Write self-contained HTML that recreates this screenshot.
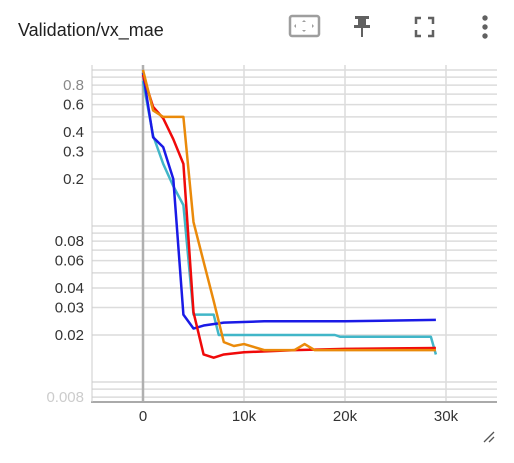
<!DOCTYPE html>
<html><head><meta charset="utf-8"><style>
body{margin:0;background:#fff;width:514px;height:463px;overflow:hidden;font-family:"Liberation Sans",sans-serif}
svg{position:absolute;left:0;top:0}
</style></head><body>
<svg width="514" height="463">
<text x="18" y="36" font-size="18" fill="#212121">Validation/vx_mae</text>
<g><rect x="290" y="16" width="29" height="20" rx="2" fill="none" stroke="#9e9e9e" stroke-width="2.5"/><path d="M304 20l2 2h-4zM304 32l2-2h-4zM294 26l2-2v4zM314 26l-2-2v4z" fill="#9e9e9e"/></g>
<g fill="#616161"><rect x="355" y="16" width="14" height="3"/><rect x="358" y="16" width="8" height="10"/><rect x="354" y="25" width="16" height="3"/><rect x="361" y="27" width="2" height="10"/></g>
<g fill="none" stroke="#616161" stroke-width="2.5"><path d="M416 24v-6h5M428 18h5v6M433 30v6h-5M421 36h-5v-6"/></g>
<g fill="#616161"><circle cx="485" cy="18" r="2.7"/><circle cx="485" cy="27" r="2.7"/><circle cx="485" cy="36" r="2.7"/></g>
<g id="grid"></g><g id="axes"></g><g id="series"></g>
<path d="M484 442l10-10M489 442l5-5" stroke="#555" stroke-width="1.3"/>
</svg>
<script>
const xTicks=[0,10000,20000,30000];
const xTickLabels=["0","10k","20k","30k"];
const yGrid=[0.008,0.009,0.01,0.02,0.03,0.04,0.05,0.06,0.07,0.08,0.09,0.1,0.2,0.3,0.4,0.5,0.6,0.7,0.8,0.9,1.0];
const yTicks=[0.008,0.02,0.03,0.04,0.06,0.08,0.2,0.3,0.4,0.6,0.8];
const yTickLabels=["0.008","0.02","0.03","0.04","0.06","0.08","0.2","0.3","0.4","0.6","0.8"];
const blueSteps=[0,1000,2000,3000,4000,5000,6000,8000,12000,20000,29000];
const blueVals=[0.96,0.37,0.32,0.2,0.027,0.022,0.023,0.024,0.0245,0.0245,0.025];
const cyanSteps=[0,1000,2000,3000,4000,5000,7000,7500,19000,19500,28500,29000];
const cyanVals=[0.85,0.38,0.25,0.18,0.136,0.027,0.027,0.02,0.02,0.0195,0.0195,0.015];
const redSteps=[0,1000,2000,3000,4000,5000,6000,7000,8000,10000,15000,20000,29000];
const redVals=[0.93,0.58,0.49,0.36,0.25,0.028,0.015,0.0143,0.015,0.0155,0.016,0.0163,0.0165];
const orangeSteps=[0,1000,2000,4000,5000,6000,7000,8000,9000,10000,12000,15000,16000,17000,29000];
const orangeVals=[1.0,0.55,0.5,0.5,0.106,0.059,0.033,0.018,0.017,0.0175,0.016,0.016,0.0175,0.016,0.016];
const X=s=>143+s*0.0101;
const Y=v=>179-156*Math.log10(v/0.2);
const NS="http://www.w3.org/2000/svg";
function mk(t,a,p){const e=document.createElementNS(NS,t);for(const k in a)e.setAttribute(k,a[k]);p.appendChild(e);return e;}
const grid=document.getElementById('grid'),axes=document.getElementById('axes'),ser=document.getElementById('series');
yGrid.forEach(v=>{const l=mk('line',{x1:92,x2:497,y1:Y(v),y2:Y(v),stroke:'#dcdcdc','stroke-width':1.5},grid);

});
xTicks.forEach((s,i)=>{const l=mk('line',{x1:X(s),x2:X(s),y1:65,y2:402,stroke:i==0?'#b0b0b0':'#dcdcdc','stroke-width':i==0?2.5:1.5},grid);


const t=mk('text',{x:X(s),y:421,'font-size':15,fill:'#333','text-anchor':'middle'},axes);t.textContent=xTickLabels[i];

});
yTicks.forEach((v,i)=>{const faded=(i==0||i==yTicks.length-1);const t=mk('text',{x:84,y:Y(v)+5,'font-size':15,fill:i==0?'#ccc':(faded?'#888':'#333'),'text-anchor':'end'},axes);t.textContent=yTickLabels[i];

});
const ax=mk('line',{x1:91,x2:497,y1:402,y2:402,stroke:'#aaa','stroke-width':2},axes);


const ay=mk('line',{x1:92,x2:92,y1:65,y2:402,stroke:'#ccc','stroke-width':1},axes);


function line(steps,vals,col,name){const p=mk('polyline',{points:steps.map((s,i)=>X(s)+','+Y(vals[i])).join(' '),fill:'none',stroke:col,'stroke-width':2.5,'stroke-linejoin':'round'},ser);

}
line(cyanSteps,cyanVals,'#41b6c8','series-cyan');
line(blueSteps,blueVals,'#1a1ae6','series-blue');
line(redSteps,redVals,'#f00a0a','series-red');
line(orangeSteps,orangeVals,'#ea8a0a','series-orange');
</script>
</body></html>
